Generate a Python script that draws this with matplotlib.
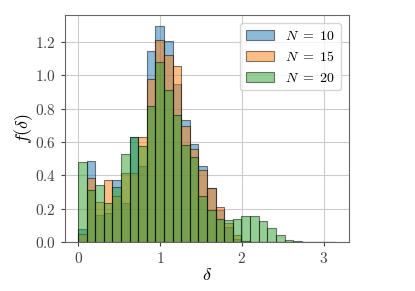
import numpy as np
import matplotlib
matplotlib.use("Agg")
import matplotlib.pyplot as plt

plt.rcParams['mathtext.fontset'] = 'cm'
plt.rcParams['font.family'] = 'serif'
plt.rcParams['font.serif'] = ['DejaVu Serif']

# histogram bins (30 bins over [0, 3.15])
edges = np.linspace(0, 3.15, 31)

n10 = [0.08, 0.487, 0.16, 0.173, 0.373, 0.235, 0.63, 0.455, 1.147, 1.296,
       1.206, 0.947, 0.732, 0.588, 0.457, 0.325, 0.193, 0.09, 0.02, 0.005,
       0, 0, 0, 0, 0, 0, 0, 0, 0, 0]
n15 = [0.05, 0.385, 0.239, 0.373, 0.279, 0.415, 0.415, 0.628, 0.977, 1.212,
       1.121, 1.057, 0.698, 0.558, 0.435, 0.325, 0.213, 0.114, 0.044, 0.005,
       0, 0, 0, 0, 0, 0, 0, 0, 0, 0]
n20 = [0.479, 0.313, 0.345, 0.235, 0.329, 0.528, 0.632, 0.578, 0.818, 1.077,
       0.911, 0.762, 0.582, 0.512, 0.279, 0.193, 0.14, 0.134, 0.138, 0.156,
       0.154, 0.126, 0.082, 0.044, 0.014, 0.004, 0.002, 0.002, 0.002, 0.002]
labels = [r'$N\ =\ 10$', r'$N\ =\ 15$', r'$N\ =\ 20$']

fig = plt.figure(figsize=(4.15, 2.91), dpi=100)
ax = fig.add_axes([0.157, 0.168, 0.684, 0.78])

centers = 0.5 * (edges[:-1] + edges[1:])
for vals, lab in zip([n10, n15, n20], labels):
    ax.hist(centers, bins=edges, weights=vals, alpha=0.5, edgecolor='black',
            linewidth=0.8, label=lab)

ax.grid(True, color='#cccccc', linewidth=0.8)
ax.set_axisbelow(True)
for s in ax.spines.values():
    s.set_color('#666666')

ax.set_xticks([0, 1, 2, 3])
ax.set_xticklabels(['$0$', '$1$', '$2$', '$3$'], fontsize=11)
yt = [0.0, 0.2, 0.4, 0.6, 0.8, 1.0, 1.2]
ax.set_yticks(yt)
ax.set_yticklabels(['$%.1f$' % v for v in yt], fontsize=11)
ax.tick_params(colors='#444444', length=3)

ax.set_xlabel(r'$\delta$', fontsize=13, labelpad=0)
ax.set_ylabel(r'$f(\delta)$', fontsize=13, labelpad=0)

ax.legend(loc='upper right', fontsize=10, framealpha=0.8,
          borderaxespad=0.6)

fig.savefig('out.png', dpi=100)
